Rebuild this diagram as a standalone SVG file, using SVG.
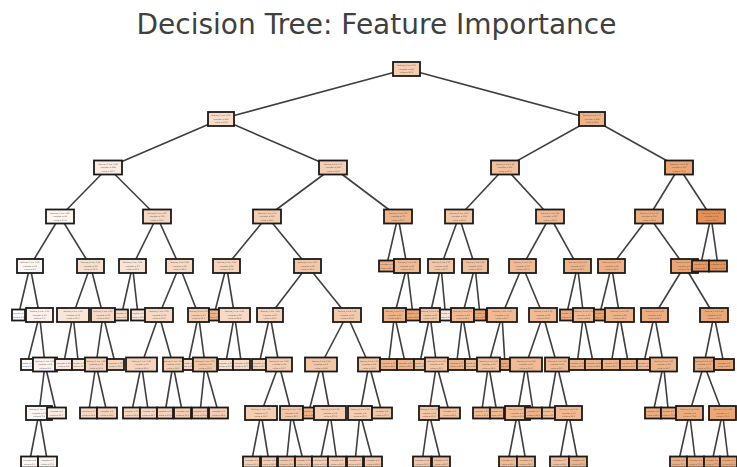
<svg xmlns="http://www.w3.org/2000/svg" width="737" height="467" viewBox="0 0 737 467">
<style>
  .bg{fill:#ffffff}
  .title{font-family:"DejaVu Sans",sans-serif;font-size:28px;fill:#404040;text-anchor:middle}
  .edges line{stroke:#3f3f3f;stroke-width:1.6}
  .nd rect{stroke:#1a1a1a;stroke-width:1.8}
  .nd text{font-family:"DejaVu Sans",sans-serif;font-size:2px;fill:#555;text-anchor:middle}
  .c02{fill:#fefcfb}.c05{fill:#fef9f5}.c06{fill:#fdf7f3}.c08{fill:#fdf5ef}.c10{fill:#fcf2eb}
  .c15{fill:#fbece1}.c20{fill:#fae6d7}.c22{fill:#f9e3d3}.c25{fill:#f8e0ce}.c28{fill:#f8dcc8}
  .c30{fill:#f7d9c4}.c32{fill:#f7d7c0}.c35{fill:#f6d3ba}.c38{fill:#f5cfb4}.c40{fill:#f5cdb0}
  .c42{fill:#f4caac}.c45{fill:#f3c6a6}.c50{fill:#f2c09c}.c55{fill:#f1ba92}.c60{fill:#efb388}
  .c62{fill:#efb184}.c65{fill:#eead7e}.c70{fill:#eda774}.c72{fill:#eca470}.c75{fill:#eca16a}
  .c82{fill:#ea985d}.c85{fill:#e99457}.c88{fill:#e89051}
</style>
<rect class="bg" x="0" y="0" width="737" height="467"/>
<text class="title" x="376.5" y="34">Decision Tree: Feature Importance</text>

<!-- connectors: drawn centre to centre, boxes painted over the ends -->
<g id="connectors" class="edges">
  <line x1="406.5" y1="69" x2="221" y2="119"/><line x1="406.5" y1="69" x2="592" y2="119"/>
  <line x1="221" y1="119" x2="108" y2="167.5"/><line x1="221" y1="119" x2="333" y2="167.5"/>
  <line x1="592" y1="119" x2="505" y2="167.5"/><line x1="592" y1="119" x2="679" y2="167.5"/>
  <line x1="108" y1="167.5" x2="60" y2="216.5"/><line x1="108" y1="167.5" x2="157" y2="216.5"/>
  <line x1="333" y1="167.5" x2="267" y2="216.5"/><line x1="333" y1="167.5" x2="398" y2="216.5"/>
  <line x1="505" y1="167.5" x2="459" y2="216.5"/><line x1="505" y1="167.5" x2="550" y2="216.5"/>
  <line x1="679" y1="167.5" x2="649" y2="216.5"/><line x1="679" y1="167.5" x2="711" y2="216.5"/>
  <line x1="60" y1="216.5" x2="30" y2="266"/><line x1="60" y1="216.5" x2="90.5" y2="266"/>
  <line x1="157" y1="216.5" x2="132.5" y2="266"/><line x1="157" y1="216.5" x2="179.5" y2="266"/>
  <line x1="267" y1="216.5" x2="226.5" y2="266"/><line x1="267" y1="216.5" x2="307.5" y2="266"/>
  <line x1="398" y1="216.5" x2="386.5" y2="266"/><line x1="398" y1="216.5" x2="407" y2="266"/>
  <line x1="459" y1="216.5" x2="441" y2="266"/><line x1="459" y1="216.5" x2="475" y2="266"/>
  <line x1="550" y1="216.5" x2="522.5" y2="266"/><line x1="550" y1="216.5" x2="577.5" y2="266"/>
  <line x1="649" y1="216.5" x2="611.5" y2="266"/><line x1="649" y1="216.5" x2="684.5" y2="266"/>
  <line x1="711" y1="216.5" x2="700.5" y2="266"/><line x1="711" y1="216.5" x2="718" y2="266"/>
  <line x1="30" y1="266" x2="18.5" y2="315"/><line x1="30" y1="266" x2="39.5" y2="315"/>
  <line x1="90.5" y1="266" x2="73" y2="315"/><line x1="90.5" y1="266" x2="103" y2="315"/>
  <line x1="132.5" y1="266" x2="121.5" y2="315"/><line x1="132.5" y1="266" x2="138" y2="315"/>
  <line x1="179.5" y1="266" x2="159" y2="315"/><line x1="179.5" y1="266" x2="198.5" y2="315"/>
  <line x1="226.5" y1="266" x2="214" y2="315"/><line x1="226.5" y1="266" x2="234.5" y2="315"/>
  <line x1="307.5" y1="266" x2="270" y2="315"/><line x1="307.5" y1="266" x2="347" y2="315"/>
  <line x1="407" y1="266" x2="394.5" y2="315"/><line x1="407" y1="266" x2="413" y2="315"/>
  <line x1="441" y1="266" x2="430" y2="315"/><line x1="441" y1="266" x2="445.5" y2="315"/>
  <line x1="475" y1="266" x2="462.5" y2="315"/><line x1="475" y1="266" x2="480" y2="315"/>
  <line x1="522.5" y1="266" x2="502" y2="315"/><line x1="522.5" y1="266" x2="543" y2="315"/>
  <line x1="577.5" y1="266" x2="566.5" y2="315"/><line x1="577.5" y1="266" x2="583.5" y2="315"/>
  <line x1="611.5" y1="266" x2="599.5" y2="315"/><line x1="611.5" y1="266" x2="619.5" y2="315"/>
  <line x1="684.5" y1="266" x2="654.5" y2="315"/><line x1="684.5" y1="266" x2="714" y2="315"/>
  <line x1="39.5" y1="315" x2="27" y2="364.5"/><line x1="39.5" y1="315" x2="45" y2="364.5"/>
  <line x1="73" y1="315" x2="63.5" y2="364.5"/><line x1="73" y1="315" x2="78.5" y2="364.5"/>
  <line x1="103" y1="315" x2="96" y2="364.5"/><line x1="103" y1="315" x2="115.5" y2="364.5"/>
  <line x1="159" y1="315" x2="141.5" y2="364.5"/><line x1="159" y1="315" x2="173" y2="364.5"/>
  <line x1="198.5" y1="315" x2="188" y2="364.5"/><line x1="198.5" y1="315" x2="205" y2="364.5"/>
  <line x1="234.5" y1="315" x2="225.5" y2="364.5"/><line x1="234.5" y1="315" x2="241.5" y2="364.5"/>
  <line x1="270" y1="315" x2="259" y2="364.5"/><line x1="270" y1="315" x2="279" y2="364.5"/>
  <line x1="347" y1="315" x2="321" y2="364.5"/><line x1="347" y1="315" x2="369" y2="364.5"/>
  <line x1="394.5" y1="315" x2="388.5" y2="364.5"/><line x1="394.5" y1="315" x2="405.5" y2="364.5"/>
  <line x1="430" y1="315" x2="419.5" y2="364.5"/><line x1="430" y1="315" x2="436.5" y2="364.5"/>
  <line x1="462.5" y1="315" x2="456.5" y2="364.5"/><line x1="462.5" y1="315" x2="471" y2="364.5"/>
  <line x1="502" y1="315" x2="488.5" y2="364.5"/><line x1="502" y1="315" x2="505" y2="364.5"/>
  <line x1="543" y1="315" x2="526" y2="364.5"/><line x1="543" y1="315" x2="557" y2="364.5"/>
  <line x1="583.5" y1="315" x2="577" y2="364.5"/><line x1="583.5" y1="315" x2="593.5" y2="364.5"/>
  <line x1="619.5" y1="315" x2="611" y2="364.5"/><line x1="619.5" y1="315" x2="628.5" y2="364.5"/>
  <line x1="654.5" y1="315" x2="643.5" y2="364.5"/><line x1="654.5" y1="315" x2="663.5" y2="364.5"/>
  <line x1="714" y1="315" x2="704" y2="364.5"/><line x1="714" y1="315" x2="724" y2="364.5"/>
  <line x1="45" y1="364.5" x2="39" y2="413"/><line x1="45" y1="364.5" x2="56.5" y2="413"/>
  <line x1="96" y1="364.5" x2="88.5" y2="413"/><line x1="96" y1="364.5" x2="107" y2="413"/>
  <line x1="141.5" y1="364.5" x2="131.5" y2="413"/><line x1="141.5" y1="364.5" x2="148.5" y2="413"/>
  <line x1="173" y1="364.5" x2="165" y2="413"/><line x1="173" y1="364.5" x2="182.5" y2="413"/>
  <line x1="205" y1="364.5" x2="200" y2="413"/><line x1="205" y1="364.5" x2="218.5" y2="413"/>
  <line x1="279" y1="364.5" x2="261" y2="413"/><line x1="279" y1="364.5" x2="291.5" y2="413"/>
  <line x1="321" y1="364.5" x2="308.5" y2="413"/><line x1="321" y1="364.5" x2="330" y2="413"/>
  <line x1="369" y1="364.5" x2="360" y2="413"/><line x1="369" y1="364.5" x2="382" y2="413"/>
  <line x1="436.5" y1="364.5" x2="429" y2="413"/><line x1="436.5" y1="364.5" x2="449.5" y2="413"/>
  <line x1="488.5" y1="364.5" x2="481.5" y2="413"/><line x1="488.5" y1="364.5" x2="497" y2="413"/>
  <line x1="526" y1="364.5" x2="517.5" y2="413"/><line x1="526" y1="364.5" x2="533.5" y2="413"/>
  <line x1="557" y1="364.5" x2="548.5" y2="413"/><line x1="557" y1="364.5" x2="568.5" y2="413"/>
  <line x1="663.5" y1="364.5" x2="653" y2="413"/><line x1="663.5" y1="364.5" x2="668.5" y2="413"/>
  <line x1="704" y1="364.5" x2="689.5" y2="413"/><line x1="704" y1="364.5" x2="722.5" y2="413"/>
  <line x1="39" y1="413" x2="29.5" y2="462"/><line x1="39" y1="413" x2="47.5" y2="462"/>
  <line x1="261" y1="413" x2="251.5" y2="462"/><line x1="261" y1="413" x2="269" y2="462"/>
  <line x1="291.5" y1="413" x2="286.5" y2="462"/><line x1="291.5" y1="413" x2="303.5" y2="462"/>
  <line x1="330" y1="413" x2="320" y2="462"/><line x1="330" y1="413" x2="337" y2="462"/>
  <line x1="360" y1="413" x2="355" y2="462"/><line x1="360" y1="413" x2="373" y2="462"/>
  <line x1="429" y1="413" x2="422" y2="462"/><line x1="429" y1="413" x2="441" y2="462"/>
  <line x1="517.5" y1="413" x2="508" y2="462"/><line x1="517.5" y1="413" x2="526" y2="462"/>
  <line x1="568.5" y1="413" x2="559.5" y2="462"/><line x1="568.5" y1="413" x2="578" y2="462"/>
  <line x1="689.5" y1="413" x2="678.5" y2="462"/><line x1="689.5" y1="413" x2="695.5" y2="462"/>
  <line x1="722.5" y1="413" x2="712" y2="462"/><line x1="722.5" y1="413" x2="728.5" y2="462"/>
</g>

<!-- depth 0-3 -->
<g id="n0" class="nd"><rect class="c40" x="393" y="62" width="27" height="14"/><text x="406.5" y="66.4">feature_2 &lt;= 0.51<tspan x="406.5" dy="3.4">samples = 800</tspan><tspan x="406.5" dy="3.4">value = 41.2</tspan></text></g>
<g id="n1" class="nd"><rect class="c28" x="208" y="112" width="26" height="14"/><text x="221" y="116.4">feature_0 &lt;= -0.32<tspan x="221" dy="3.4">samples = 412</tspan><tspan x="221" dy="3.4">value = 30.5</tspan></text></g>
<g id="n2" class="nd"><rect class="c60" x="579" y="112" width="26" height="14"/><text x="592" y="116.4">feature_3 &lt;= 0.77<tspan x="592" dy="3.4">samples = 388</tspan><tspan x="592" dy="3.4">value = 58.9</tspan></text></g>
<g id="n3" class="nd"><rect class="c15" x="94" y="160.5" width="28" height="14"/><text x="108" y="164.9">feature_1 &lt;= -1.04<tspan x="108" dy="3.4">samples = 198</tspan><tspan x="108" dy="3.4">value = 18.7</tspan></text></g>
<g id="n4" class="nd"><rect class="c38" x="319" y="160.5" width="28" height="14"/><text x="333" y="164.9">feature_4 &lt;= 0.12<tspan x="333" dy="3.4">samples = 214</tspan><tspan x="333" dy="3.4">value = 39.8</tspan></text></g>
<g id="n5" class="nd"><rect class="c50" x="491" y="160.5" width="28" height="14"/><text x="505" y="164.9">feature_0 &lt;= 0.66<tspan x="505" dy="3.4">samples = 231</tspan><tspan x="505" dy="3.4">value = 50.3</tspan></text></g>
<g id="n6" class="nd"><rect class="c70" x="665" y="160.5" width="28" height="14"/><text x="679" y="164.9">feature_2 &lt;= 1.38<tspan x="679" dy="3.4">samples = 157</tspan><tspan x="679" dy="3.4">value = 71.6</tspan></text></g>
<g id="n7" class="nd"><rect class="c08" x="46" y="209.5" width="28" height="14"/><text x="60" y="213.9">feature_3 &lt;= -0.85<tspan x="60" dy="3.4">samples = 96</tspan><tspan x="60" dy="3.4">value = 10.4</tspan></text></g>
<g id="n8" class="nd"><rect class="c32" x="143" y="209.5" width="28" height="14"/><text x="157" y="213.9">feature_2 &lt;= -0.47<tspan x="157" dy="3.4">samples = 102</tspan><tspan x="157" dy="3.4">value = 26.5</tspan></text></g>
<g id="n9" class="nd"><rect class="c40" x="253" y="209.5" width="28" height="14"/><text x="267" y="213.9">feature_1 &lt;= 0.23<tspan x="267" dy="3.4">samples = 141</tspan><tspan x="267" dy="3.4">value = 34.2</tspan></text></g>
<g id="n10" class="nd"><rect class="c60" x="384" y="209.5" width="28" height="14"/><text x="398" y="213.9">feature_0 &lt;= 0.05<tspan x="398" dy="3.4">samples = 73</tspan><tspan x="398" dy="3.4">value = 51.1</tspan></text></g>
<g id="n11" class="nd"><rect class="c45" x="445" y="209.5" width="28" height="14"/><text x="459" y="213.9">feature_4 &lt;= -0.61<tspan x="459" dy="3.4">samples = 104</tspan><tspan x="459" dy="3.4">value = 43.9</tspan></text></g>
<g id="n12" class="nd"><rect class="c55" x="536" y="209.5" width="28" height="14"/><text x="550" y="213.9">feature_1 &lt;= 0.92<tspan x="550" dy="3.4">samples = 127</tspan><tspan x="550" dy="3.4">value = 55.4</tspan></text></g>
<g id="n13" class="nd"><rect class="c65" x="635" y="209.5" width="28" height="14"/><text x="649" y="213.9">feature_3 &lt;= 1.16<tspan x="649" dy="3.4">samples = 118</tspan><tspan x="649" dy="3.4">value = 66.8</tspan></text></g>
<g id="n14" class="nd"><rect class="c88" x="697" y="209.5" width="28" height="14"/><text x="711" y="213.9">feature_0 &lt;= 1.74<tspan x="711" dy="3.4">samples = 39</tspan><tspan x="711" dy="3.4">value = 86.0</tspan></text></g>

<!-- depth 4 -->
<g id="n15" class="nd"><rect class="c06" x="17" y="259" width="26" height="14"/><text x="30" y="263.4">feature_1 &lt;= -1.62<tspan x="30" dy="3.4">samples = 41</tspan><tspan x="30" dy="3.4">value = 6.2</tspan></text></g>
<g id="n16" class="nd"><rect class="c25" x="77" y="259" width="27" height="14"/><text x="90.5" y="263.4">feature_4 &lt;= -0.18<tspan x="90.5" dy="3.4">samples = 55</tspan><tspan x="90.5" dy="3.4">value = 13.5</tspan></text></g>
<g id="n17" class="nd"><rect class="c22" x="119" y="259" width="27" height="14"/><text x="132.5" y="263.4">feature_0 &lt;= -0.94<tspan x="132.5" dy="3.4">samples = 37</tspan><tspan x="132.5" dy="3.4">value = 21.3</tspan></text></g>
<g id="n18" class="nd"><rect class="c30" x="166" y="259" width="27" height="14"/><text x="179.5" y="263.4">feature_3 &lt;= 0.41<tspan x="179.5" dy="3.4">samples = 65</tspan><tspan x="179.5" dy="3.4">value = 29.4</tspan></text></g>
<g id="n19" class="nd"><rect class="c35" x="213" y="259" width="27" height="14"/><text x="226.5" y="263.4">feature_2 &lt;= -0.02<tspan x="226.5" dy="3.4">samples = 58</tspan><tspan x="226.5" dy="3.4">value = 30.8</tspan></text></g>
<g id="n20" class="nd"><rect class="c45" x="294" y="259" width="27" height="14"/><text x="307.5" y="263.4">feature_0 &lt;= -0.27<tspan x="307.5" dy="3.4">samples = 83</tspan><tspan x="307.5" dy="3.4">value = 36.6</tspan></text></g>
<g id="n21" class="nd"><rect class="c62" x="379" y="260.5" width="15" height="11"/><text x="386.5" y="265.4">samples = 4<tspan x="386.5" dy="3.4">value = 48.0</tspan></text></g>
<g id="n22" class="nd"><rect class="c55" x="394" y="259" width="26" height="14"/><text x="407" y="263.4">feature_3 &lt;= 0.58<tspan x="407" dy="3.4">samples = 69</tspan><tspan x="407" dy="3.4">value = 51.3</tspan></text></g>
<g id="n23" class="nd"><rect class="c45" x="428" y="259" width="26" height="14"/><text x="441" y="263.4">feature_1 &lt;= 0.37<tspan x="441" dy="3.4">samples = 48</tspan><tspan x="441" dy="3.4">value = 41.7</tspan></text></g>
<g id="n24" class="nd"><rect class="c50" x="462" y="259" width="26" height="14"/><text x="475" y="263.4">feature_2 &lt;= 0.84<tspan x="475" dy="3.4">samples = 56</tspan><tspan x="475" dy="3.4">value = 45.8</tspan></text></g>
<g id="n25" class="nd"><rect class="c55" x="509" y="259" width="27" height="14"/><text x="522.5" y="263.4">feature_4 &lt;= 0.29<tspan x="522.5" dy="3.4">samples = 70</tspan><tspan x="522.5" dy="3.4">value = 52.2</tspan></text></g>
<g id="n26" class="nd"><rect class="c60" x="564" y="259" width="27" height="14"/><text x="577.5" y="263.4">feature_0 &lt;= 1.21<tspan x="577.5" dy="3.4">samples = 57</tspan><tspan x="577.5" dy="3.4">value = 59.0</tspan></text></g>
<g id="n27" class="nd"><rect class="c62" x="598" y="259" width="27" height="14"/><text x="611.5" y="263.4">feature_4 &lt;= 0.73<tspan x="611.5" dy="3.4">samples = 62</tspan><tspan x="611.5" dy="3.4">value = 61.9</tspan></text></g>
<g id="n28" class="nd"><rect class="c72" x="671" y="259" width="27" height="14"/><text x="684.5" y="263.4">feature_1 &lt;= 1.05<tspan x="684.5" dy="3.4">samples = 56</tspan><tspan x="684.5" dy="3.4">value = 72.4</tspan></text></g>
<g id="n29" class="nd"><rect class="c82" x="692" y="260.5" width="17" height="11"/><text x="700.5" y="265.4">samples = 21<tspan x="700.5" dy="3.4">value = 81.7</tspan></text></g>
<g id="n30" class="nd"><rect class="c85" x="709" y="260.5" width="18" height="11"/><text x="718" y="265.4">samples = 18<tspan x="718" dy="3.4">value = 90.9</tspan></text></g>

<!-- depth 5 -->
<g id="n31" class="nd"><rect class="c02" x="12" y="309.5" width="13" height="11"/><text x="18.5" y="314.4">samples = 6<tspan x="18.5" dy="3.4">value = 1.4</tspan></text></g>
<g id="n32" class="nd"><rect class="c10" x="26" y="308" width="27" height="14"/><text x="39.5" y="312.4">feature_4 &lt;= -1.11<tspan x="39.5" dy="3.4">samples = 35</tspan><tspan x="39.5" dy="3.4">value = 7.1</tspan></text></g>
<g id="n33" class="nd"><rect class="c20" x="57" y="308" width="32" height="14"/><text x="73" y="312.4">feature_2 &lt;= -1.30<tspan x="73" dy="3.4">samples = 22</tspan><tspan x="73" dy="3.4">value = 11.0</tspan></text></g>
<g id="n34" class="nd"><rect class="c30" x="91" y="308" width="24" height="14"/><text x="103" y="312.4">feature_0 &lt;= -0.51<tspan x="103" dy="3.4">samples = 33</tspan><tspan x="103" dy="3.4">value = 15.2</tspan></text></g>
<g id="n35" class="nd"><rect class="c30" x="115" y="309.5" width="13" height="11"/><text x="121.5" y="314.4">samples = 9<tspan x="121.5" dy="3.4">value = 24.6</tspan></text></g>
<g id="n36" class="nd"><rect class="c20" x="131" y="309.5" width="14" height="11"/><text x="138" y="314.4">samples = 28<tspan x="138" dy="3.4">value = 19.9</tspan></text></g>
<g id="n37" class="nd"><rect class="c30" x="145" y="308" width="28" height="14"/><text x="159" y="312.4">feature_1 &lt;= -0.76<tspan x="159" dy="3.4">samples = 38</tspan><tspan x="159" dy="3.4">value = 27.5</tspan></text></g>
<g id="n38" class="nd"><rect class="c40" x="188" y="308" width="21" height="14"/><text x="198.5" y="312.4">feature_4 &lt;= 0.50<tspan x="198.5" dy="3.4">samples = 27</tspan><tspan x="198.5" dy="3.4">value = 32.1</tspan></text></g>
<g id="n39" class="nd"><rect class="c60" x="209" y="309.5" width="10" height="11"/><text x="214" y="314.4">samples = 3<tspan x="214" dy="3.4">value = 47.3</tspan></text></g>
<g id="n40" class="nd"><rect class="c30" x="219" y="308" width="31" height="14"/><text x="234.5" y="312.4">feature_0 &lt;= -0.62<tspan x="234.5" dy="3.4">samples = 55</tspan><tspan x="234.5" dy="3.4">value = 29.9</tspan></text></g>
<g id="n41" class="nd"><rect class="c35" x="257" y="308" width="26" height="14"/><text x="270" y="312.4">feature_3 &lt;= -0.44<tspan x="270" dy="3.4">samples = 47</tspan><tspan x="270" dy="3.4">value = 33.0</tspan></text></g>
<g id="n42" class="nd"><rect class="c42" x="333" y="308" width="28" height="14"/><text x="347" y="312.4">feature_2 &lt;= 0.36<tspan x="347" dy="3.4">samples = 36</tspan><tspan x="347" dy="3.4">value = 40.8</tspan></text></g>
<g id="n43" class="nd"><rect class="c60" x="383" y="308" width="23" height="14"/><text x="394.5" y="312.4">feature_1 &lt;= 0.14<tspan x="394.5" dy="3.4">samples = 44</tspan><tspan x="394.5" dy="3.4">value = 49.6</tspan></text></g>
<g id="n44" class="nd"><rect class="c70" x="406" y="309.5" width="14" height="11"/><text x="413" y="314.4">samples = 25<tspan x="413" dy="3.4">value = 54.2</tspan></text></g>
<g id="n45" class="nd"><rect class="c45" x="420" y="308" width="20" height="14"/><text x="430" y="312.4">feature_0 &lt;= 0.48<tspan x="430" dy="3.4">samples = 40</tspan><tspan x="430" dy="3.4">value = 43.5</tspan></text></g>
<g id="n46" class="nd"><rect class="c20" x="440" y="309.5" width="11" height="11"/><text x="445.5" y="314.4">samples = 8<tspan x="445.5" dy="3.4">value = 33.4</tspan></text></g>
<g id="n47" class="nd"><rect class="c55" x="451" y="308" width="23" height="14"/><text x="462.5" y="312.4">feature_3 &lt;= 0.11<tspan x="462.5" dy="3.4">samples = 49</tspan><tspan x="462.5" dy="3.4">value = 44.6</tspan></text></g>
<g id="n48" class="nd"><rect class="c70" x="474" y="309.5" width="12" height="11"/><text x="480" y="314.4">samples = 7<tspan x="480" dy="3.4">value = 53.9</tspan></text></g>
<g id="n49" class="nd"><rect class="c55" x="487" y="308" width="30" height="14"/><text x="502" y="312.4">feature_1 &lt;= -0.05<tspan x="502" dy="3.4">samples = 31</tspan><tspan x="502" dy="3.4">value = 50.7</tspan></text></g>
<g id="n50" class="nd"><rect class="c55" x="529" y="308" width="28" height="14"/><text x="543" y="312.4">feature_2 &lt;= 1.02<tspan x="543" dy="3.4">samples = 39</tspan><tspan x="543" dy="3.4">value = 53.5</tspan></text></g>
<g id="n51" class="nd"><rect class="c65" x="560" y="309.5" width="13" height="11"/><text x="566.5" y="314.4">samples = 5<tspan x="566.5" dy="3.4">value = 63.0</tspan></text></g>
<g id="n52" class="nd"><rect class="c55" x="573" y="308" width="21" height="14"/><text x="583.5" y="312.4">feature_4 &lt;= 1.19<tspan x="583.5" dy="3.4">samples = 52</tspan><tspan x="583.5" dy="3.4">value = 58.4</tspan></text></g>
<g id="n53" class="nd"><rect class="c75" x="594" y="309.5" width="11" height="11"/><text x="599.5" y="314.4">samples = 4<tspan x="599.5" dy="3.4">value = 70.2</tspan></text></g>
<g id="n54" class="nd"><rect class="c60" x="605" y="308" width="29" height="14"/><text x="619.5" y="312.4">feature_0 &lt;= 1.47<tspan x="619.5" dy="3.4">samples = 58</tspan><tspan x="619.5" dy="3.4">value = 61.3</tspan></text></g>
<g id="n55" class="nd"><rect class="c65" x="641" y="308" width="27" height="14"/><text x="654.5" y="312.4">feature_3 &lt;= 1.63<tspan x="654.5" dy="3.4">samples = 33</tspan><tspan x="654.5" dy="3.4">value = 66.1</tspan></text></g>
<g id="n56" class="nd"><rect class="c70" x="700" y="308" width="28" height="14"/><text x="714" y="312.4">feature_2 &lt;= 1.89<tspan x="714" dy="3.4">samples = 23</tspan><tspan x="714" dy="3.4">value = 78.5</tspan></text></g>

<!-- depth 6 -->
<g id="n57" class="nd"><rect class="c05" x="21" y="359" width="12" height="11"/><text x="27" y="363.9">samples = 11<tspan x="27" dy="3.4">value = 3.3</tspan></text></g>
<g id="n58" class="nd"><rect class="c10" x="33" y="357.5" width="24" height="14"/><text x="45" y="361.9">feature_0 &lt;= -1.48<tspan x="45" dy="3.4">samples = 24</tspan><tspan x="45" dy="3.4">value = 8.9</tspan></text></g>
<g id="n59" class="nd"><rect class="c15" x="55" y="359" width="17" height="11"/><text x="63.5" y="363.9">samples = 12<tspan x="63.5" dy="3.4">value = 9.6</tspan></text></g>
<g id="n60" class="nd"><rect class="c20" x="72" y="359" width="13" height="11"/><text x="78.5" y="363.9">samples = 10<tspan x="78.5" dy="3.4">value = 12.7</tspan></text></g>
<g id="n61" class="nd"><rect class="c35" x="85" y="357.5" width="22" height="14"/><text x="96" y="361.9">feature_3 &lt;= -0.93<tspan x="96" dy="3.4">samples = 19</tspan><tspan x="96" dy="3.4">value = 16.4</tspan></text></g>
<g id="n62" class="nd"><rect class="c35" x="107" y="359" width="17" height="11"/><text x="115.5" y="363.9">samples = 14<tspan x="115.5" dy="3.4">value = 13.6</tspan></text></g>
<g id="n63" class="nd"><rect class="c35" x="126" y="357.5" width="31" height="14"/><text x="141.5" y="361.9">feature_2 &lt;= -0.81<tspan x="141.5" dy="3.4">samples = 20</tspan><tspan x="141.5" dy="3.4">value = 25.9</tspan></text></g>
<g id="n64" class="nd"><rect class="c40" x="163" y="357.5" width="20" height="14"/><text x="173" y="361.9">feature_1 &lt;= -0.38<tspan x="173" dy="3.4">samples = 18</tspan><tspan x="173" dy="3.4">value = 29.2</tspan></text></g>
<g id="n65" class="nd"><rect class="c30" x="183" y="359" width="10" height="11"/><text x="188" y="363.9">samples = 6<tspan x="188" dy="3.4">value = 27.0</tspan></text></g>
<g id="n66" class="nd"><rect class="c45" x="193" y="357.5" width="24" height="14"/><text x="205" y="361.9">feature_0 &lt;= -0.70<tspan x="205" dy="3.4">samples = 21</tspan><tspan x="205" dy="3.4">value = 33.5</tspan></text></g>
<g id="n67" class="nd"><rect class="c25" x="218" y="359" width="15" height="11"/><text x="225.5" y="363.9">samples = 26<tspan x="225.5" dy="3.4">value = 27.8</tspan></text></g>
<g id="n68" class="nd"><rect class="c30" x="233" y="359" width="17" height="11"/><text x="241.5" y="363.9">samples = 29<tspan x="241.5" dy="3.4">value = 31.7</tspan></text></g>
<g id="n69" class="nd"><rect class="c35" x="252" y="359" width="14" height="11"/><text x="259" y="363.9">samples = 9<tspan x="259" dy="3.4">value = 30.3</tspan></text></g>
<g id="n70" class="nd"><rect class="c40" x="266" y="357.5" width="26" height="14"/><text x="279" y="361.9">feature_4 &lt;= -0.25<tspan x="279" dy="3.4">samples = 38</tspan><tspan x="279" dy="3.4">value = 33.7</tspan></text></g>
<g id="n71" class="nd"><rect class="c45" x="305" y="357.5" width="32" height="14"/><text x="321" y="361.9">feature_1 &lt;= 0.09<tspan x="321" dy="3.4">samples = 22</tspan><tspan x="321" dy="3.4">value = 38.9</tspan></text></g>
<g id="n72" class="nd"><rect class="c45" x="358" y="357.5" width="22" height="14"/><text x="369" y="361.9">feature_3 &lt;= 0.02<tspan x="369" dy="3.4">samples = 14</tspan><tspan x="369" dy="3.4">value = 43.8</tspan></text></g>
<g id="n73" class="nd"><rect class="c60" x="380" y="359" width="17" height="11"/><text x="388.5" y="363.9">samples = 23<tspan x="388.5" dy="3.4">value = 48.1</tspan></text></g>
<g id="n74" class="nd"><rect class="c60" x="397" y="359" width="17" height="11"/><text x="405.5" y="363.9">samples = 21<tspan x="405.5" dy="3.4">value = 51.2</tspan></text></g>
<g id="n75" class="nd"><rect class="c50" x="414" y="359" width="11" height="11"/><text x="419.5" y="363.9">samples = 5<tspan x="419.5" dy="3.4">value = 47.0</tspan></text></g>
<g id="n76" class="nd"><rect class="c45" x="425" y="357.5" width="23" height="14"/><text x="436.5" y="361.9">feature_2 &lt;= 0.61<tspan x="436.5" dy="3.4">samples = 35</tspan><tspan x="436.5" dy="3.4">value = 43.0</tspan></text></g>
<g id="n77" class="nd"><rect class="c60" x="448" y="359" width="17" height="11"/><text x="456.5" y="363.9">samples = 27<tspan x="456.5" dy="3.4">value = 45.9</tspan></text></g>
<g id="n78" class="nd"><rect class="c55" x="465" y="359" width="12" height="11"/><text x="471" y="363.9">samples = 22<tspan x="471" dy="3.4">value = 43.1</tspan></text></g>
<g id="n79" class="nd"><rect class="c50" x="477" y="357.5" width="23" height="14"/><text x="488.5" y="361.9">feature_0 &lt;= 0.82<tspan x="488.5" dy="3.4">samples = 25</tspan><tspan x="488.5" dy="3.4">value = 49.4</tspan></text></g>
<g id="n80" class="nd"><rect class="c70" x="500" y="359" width="10" height="11"/><text x="505" y="363.9">samples = 6<tspan x="505" dy="3.4">value = 56.2</tspan></text></g>
<g id="n81" class="nd"><rect class="c55" x="510" y="357.5" width="32" height="14"/><text x="526" y="361.9">feature_4 &lt;= 0.64<tspan x="526" dy="3.4">samples = 20</tspan><tspan x="526" dy="3.4">value = 52.0</tspan></text></g>
<g id="n82" class="nd"><rect class="c55" x="545" y="357.5" width="24" height="14"/><text x="557" y="361.9">feature_3 &lt;= 0.95<tspan x="557" dy="3.4">samples = 19</tspan><tspan x="557" dy="3.4">value = 55.1</tspan></text></g>
<g id="n83" class="nd"><rect class="c60" x="569" y="359" width="16" height="11"/><text x="577" y="363.9">samples = 28<tspan x="577" dy="3.4">value = 57.3</tspan></text></g>
<g id="n84" class="nd"><rect class="c60" x="585" y="359" width="17" height="11"/><text x="593.5" y="363.9">samples = 24<tspan x="593.5" dy="3.4">value = 59.6</tspan></text></g>
<g id="n85" class="nd"><rect class="c60" x="602" y="359" width="18" height="11"/><text x="611" y="363.9">samples = 30<tspan x="611" dy="3.4">value = 60.1</tspan></text></g>
<g id="n86" class="nd"><rect class="c60" x="620" y="359" width="17" height="11"/><text x="628.5" y="363.9">samples = 28<tspan x="628.5" dy="3.4">value = 62.6</tspan></text></g>
<g id="n87" class="nd"><rect class="c55" x="637" y="359" width="13" height="11"/><text x="643.5" y="363.9">samples = 9<tspan x="643.5" dy="3.4">value = 58.8</tspan></text></g>
<g id="n88" class="nd"><rect class="c60" x="650" y="357.5" width="27" height="14"/><text x="663.5" y="361.9">feature_1 &lt;= 1.33<tspan x="663.5" dy="3.4">samples = 24</tspan><tspan x="663.5" dy="3.4">value = 68.7</tspan></text></g>
<g id="n89" class="nd"><rect class="c65" x="694" y="357.5" width="20" height="14"/><text x="704" y="361.9">feature_4 &lt;= 1.52<tspan x="704" dy="3.4">samples = 15</tspan><tspan x="704" dy="3.4">value = 76.0</tspan></text></g>
<g id="n90" class="nd"><rect class="c70" x="714" y="359" width="20" height="11"/><text x="724" y="363.9">samples = 8<tspan x="724" dy="3.4">value = 83.2</tspan></text></g>

<!-- depth 7 -->
<g id="n91" class="nd"><rect class="c08" x="26" y="406" width="26" height="14"/><text x="39" y="410.4">feature_2 &lt;= -1.77<tspan x="39" dy="3.4">samples = 15</tspan><tspan x="39" dy="3.4">value = 7.4</tspan></text></g>
<g id="n92" class="nd"><rect class="c15" x="47" y="407.5" width="19" height="11"/><text x="56.5" y="412.4">samples = 9<tspan x="56.5" dy="3.4">value = 11.7</tspan></text></g>
<g id="n93" class="nd"><rect class="c30" x="80" y="407.5" width="17" height="11"/><text x="88.5" y="412.4">samples = 10<tspan x="88.5" dy="3.4">value = 14.8</tspan></text></g>
<g id="n94" class="nd"><rect class="c35" x="97" y="407.5" width="20" height="11"/><text x="107" y="412.4">samples = 9<tspan x="107" dy="3.4">value = 18.2</tspan></text></g>
<g id="n95" class="nd"><rect class="c35" x="123" y="407.5" width="17" height="11"/><text x="131.5" y="412.4">samples = 11<tspan x="131.5" dy="3.4">value = 26.9</tspan></text></g>
<g id="n96" class="nd"><rect class="c30" x="140" y="407.5" width="17" height="11"/><text x="148.5" y="412.4">samples = 9<tspan x="148.5" dy="3.4">value = 24.7</tspan></text></g>
<g id="n97" class="nd"><rect class="c35" x="157" y="407.5" width="16" height="11"/><text x="165" y="412.4">samples = 10<tspan x="165" dy="3.4">value = 27.6</tspan></text></g>
<g id="n98" class="nd"><rect class="c40" x="174" y="407.5" width="17" height="11"/><text x="182.5" y="412.4">samples = 8<tspan x="182.5" dy="3.4">value = 31.1</tspan></text></g>
<g id="n99" class="nd"><rect class="c40" x="192" y="407.5" width="16" height="11"/><text x="200" y="412.4">samples = 12<tspan x="200" dy="3.4">value = 32.4</tspan></text></g>
<g id="n100" class="nd"><rect class="c40" x="209" y="407.5" width="19" height="11"/><text x="218.5" y="412.4">samples = 9<tspan x="218.5" dy="3.4">value = 34.9</tspan></text></g>
<g id="n101" class="nd"><rect class="c40" x="245" y="406" width="32" height="14"/><text x="261" y="410.4">feature_1 &lt;= -0.15<tspan x="261" dy="3.4">samples = 17</tspan><tspan x="261" dy="3.4">value = 32.0</tspan></text></g>
<g id="n102" class="nd"><rect class="c45" x="280" y="406" width="23" height="14"/><text x="291.5" y="410.4">feature_0 &lt;= -0.09<tspan x="291.5" dy="3.4">samples = 21</tspan><tspan x="291.5" dy="3.4">value = 35.1</tspan></text></g>
<g id="n103" class="nd"><rect class="c60" x="303" y="407.5" width="11" height="11"/><text x="308.5" y="412.4">samples = 4<tspan x="308.5" dy="3.4">value = 45.5</tspan></text></g>
<g id="n104" class="nd"><rect class="c40" x="314" y="406" width="32" height="14"/><text x="330" y="410.4">feature_4 &lt;= 0.21<tspan x="330" dy="3.4">samples = 18</tspan><tspan x="330" dy="3.4">value = 37.4</tspan></text></g>
<g id="n105" class="nd"><rect class="c40" x="348" y="406" width="24" height="14"/><text x="360" y="410.4">feature_2 &lt;= 0.18<tspan x="360" dy="3.4">samples = 9</tspan><tspan x="360" dy="3.4">value = 41.6</tspan></text></g>
<g id="n106" class="nd"><rect class="c45" x="372" y="407.5" width="20" height="11"/><text x="382" y="412.4">samples = 5<tspan x="382" dy="3.4">value = 47.1</tspan></text></g>
<g id="n107" class="nd"><rect class="c45" x="419" y="406" width="20" height="14"/><text x="429" y="410.4">feature_1 &lt;= 0.55<tspan x="429" dy="3.4">samples = 26</tspan><tspan x="429" dy="3.4">value = 41.9</tspan></text></g>
<g id="n108" class="nd"><rect class="c50" x="439" y="407.5" width="21" height="11"/><text x="449.5" y="412.4">samples = 9<tspan x="449.5" dy="3.4">value = 46.3</tspan></text></g>
<g id="n109" class="nd"><rect class="c55" x="473" y="407.5" width="17" height="11"/><text x="481.5" y="412.4">samples = 13<tspan x="481.5" dy="3.4">value = 47.8</tspan></text></g>
<g id="n110" class="nd"><rect class="c55" x="490" y="407.5" width="14" height="11"/><text x="497" y="412.4">samples = 12<tspan x="497" dy="3.4">value = 51.1</tspan></text></g>
<g id="n111" class="nd"><rect class="c55" x="505" y="406" width="25" height="14"/><text x="517.5" y="410.4">feature_3 &lt;= 0.70<tspan x="517.5" dy="3.4">samples = 13</tspan><tspan x="517.5" dy="3.4">value = 50.5</tspan></text></g>
<g id="n112" class="nd"><rect class="c60" x="525" y="407.5" width="17" height="11"/><text x="533.5" y="412.4">samples = 7<tspan x="533.5" dy="3.4">value = 54.6</tspan></text></g>
<g id="n113" class="nd"><rect class="c50" x="542" y="407.5" width="13" height="11"/><text x="548.5" y="412.4">samples = 6<tspan x="548.5" dy="3.4">value = 52.9</tspan></text></g>
<g id="n114" class="nd"><rect class="c55" x="555" y="406" width="27" height="14"/><text x="568.5" y="410.4">feature_0 &lt;= 1.09<tspan x="568.5" dy="3.4">samples = 13</tspan><tspan x="568.5" dy="3.4">value = 56.1</tspan></text></g>
<g id="n115" class="nd"><rect class="c65" x="645" y="407.5" width="16" height="11"/><text x="653" y="412.4">samples = 11<tspan x="653" dy="3.4">value = 66.0</tspan></text></g>
<g id="n116" class="nd"><rect class="c65" x="661" y="407.5" width="15" height="11"/><text x="668.5" y="412.4">samples = 13<tspan x="668.5" dy="3.4">value = 70.9</tspan></text></g>
<g id="n117" class="nd"><rect class="c65" x="676" y="406" width="27" height="14"/><text x="689.5" y="410.4">feature_3 &lt;= 1.81<tspan x="689.5" dy="3.4">samples = 8</tspan><tspan x="689.5" dy="3.4">value = 73.8</tspan></text></g>
<g id="n118" class="nd"><rect class="c70" x="709" y="406" width="27" height="14"/><text x="722.5" y="410.4">feature_1 &lt;= 1.96<tspan x="722.5" dy="3.4">samples = 7</tspan><tspan x="722.5" dy="3.4">value = 78.6</tspan></text></g>

<!-- depth 8 -->
<g id="n119" class="nd"><rect class="c05" x="21" y="456.5" width="17" height="11"/><text x="29.5" y="461.4">samples = 8<tspan x="29.5" dy="3.4">value = 5.0</tspan></text></g>
<g id="n120" class="nd"><rect class="c10" x="38" y="456.5" width="19" height="11"/><text x="47.5" y="461.4">samples = 7<tspan x="47.5" dy="3.4">value = 10.1</tspan></text></g>
<g id="n121" class="nd"><rect class="c40" x="243" y="456.5" width="17" height="11"/><text x="251.5" y="461.4">samples = 9<tspan x="251.5" dy="3.4">value = 30.2</tspan></text></g>
<g id="n122" class="nd"><rect class="c40" x="261" y="456.5" width="16" height="11"/><text x="269" y="461.4">samples = 8<tspan x="269" dy="3.4">value = 34.0</tspan></text></g>
<g id="n123" class="nd"><rect class="c45" x="278" y="456.5" width="17" height="11"/><text x="286.5" y="461.4">samples = 11<tspan x="286.5" dy="3.4">value = 33.6</tspan></text></g>
<g id="n124" class="nd"><rect class="c45" x="295" y="456.5" width="17" height="11"/><text x="303.5" y="461.4">samples = 10<tspan x="303.5" dy="3.4">value = 36.8</tspan></text></g>
<g id="n125" class="nd"><rect class="c40" x="312" y="456.5" width="16" height="11"/><text x="320" y="461.4">samples = 10<tspan x="320" dy="3.4">value = 35.9</tspan></text></g>
<g id="n126" class="nd"><rect class="c40" x="328" y="456.5" width="18" height="11"/><text x="337" y="461.4">samples = 8<tspan x="337" dy="3.4">value = 39.2</tspan></text></g>
<g id="n127" class="nd"><rect class="c40" x="347" y="456.5" width="16" height="11"/><text x="355" y="461.4">samples = 5<tspan x="355" dy="3.4">value = 40.0</tspan></text></g>
<g id="n128" class="nd"><rect class="c45" x="364" y="456.5" width="18" height="11"/><text x="373" y="461.4">samples = 4<tspan x="373" dy="3.4">value = 43.6</tspan></text></g>
<g id="n129" class="nd"><rect class="c45" x="413" y="456.5" width="18" height="11"/><text x="422" y="461.4">samples = 14<tspan x="422" dy="3.4">value = 40.3</tspan></text></g>
<g id="n130" class="nd"><rect class="c50" x="432" y="456.5" width="18" height="11"/><text x="441" y="461.4">samples = 12<tspan x="441" dy="3.4">value = 43.7</tspan></text></g>
<g id="n131" class="nd"><rect class="c55" x="499" y="456.5" width="18" height="11"/><text x="508" y="461.4">samples = 7<tspan x="508" dy="3.4">value = 49.2</tspan></text></g>
<g id="n132" class="nd"><rect class="c55" x="517" y="456.5" width="18" height="11"/><text x="526" y="461.4">samples = 6<tspan x="526" dy="3.4">value = 52.0</tspan></text></g>
<g id="n133" class="nd"><rect class="c50" x="550" y="456.5" width="19" height="11"/><text x="559.5" y="461.4">samples = 7<tspan x="559.5" dy="3.4">value = 54.8</tspan></text></g>
<g id="n134" class="nd"><rect class="c60" x="569" y="456.5" width="18" height="11"/><text x="578" y="461.4">samples = 6<tspan x="578" dy="3.4">value = 57.6</tspan></text></g>
<g id="n135" class="nd"><rect class="c65" x="670" y="456.5" width="17" height="11"/><text x="678.5" y="461.4">samples = 4<tspan x="678.5" dy="3.4">value = 72.1</tspan></text></g>
<g id="n136" class="nd"><rect class="c65" x="687" y="456.5" width="17" height="11"/><text x="695.5" y="461.4">samples = 4<tspan x="695.5" dy="3.4">value = 75.5</tspan></text></g>
<g id="n137" class="nd"><rect class="c70" x="704" y="456.5" width="16" height="11"/><text x="712" y="461.4">samples = 4<tspan x="712" dy="3.4">value = 77.0</tspan></text></g>
<g id="n138" class="nd"><rect class="c70" x="720" y="456.5" width="17" height="11"/><text x="728.5" y="461.4">samples = 3<tspan x="728.5" dy="3.4">value = 80.4</tspan></text></g>
</svg>
